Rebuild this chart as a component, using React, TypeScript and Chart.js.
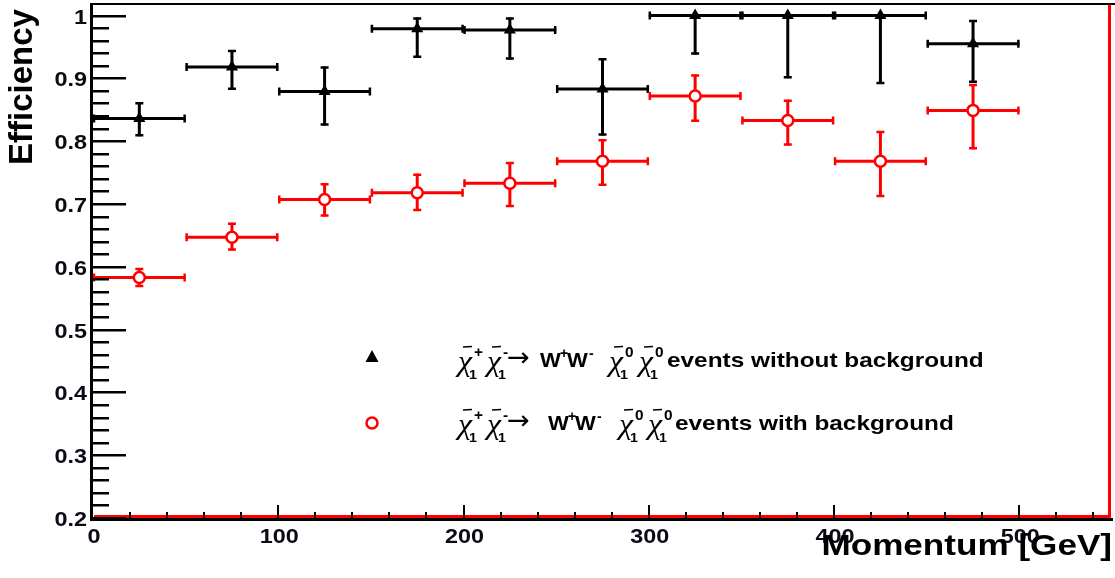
import React, { useEffect, useRef } from 'react';
import { Chart, registerables } from 'chart.js';

Chart.register(...registerables);

// ---- data ----
const binCenters = [25, 75, 125, 175, 225, 275, 325, 375, 425, 475];
const binHalfWidths = [25, 25, 25, 25, 25, 25, 25, 25, 25, 25];

const effNoBkg = [0.836, 0.918, 0.879, 0.979, 0.977, 0.883, 1.0, 1.0, 1.0, 0.955];
const effNoBkgHigh = [0.862, 0.945, 0.919, 0.997, 0.997, 0.932, 1.0, 1.0, 1.0, 0.993];
const effNoBkgLow = [0.808, 0.882, 0.825, 0.933, 0.930, 0.809, 0.938, 0.900, 0.891, 0.893];

const effBkg = [0.583, 0.647, 0.707, 0.718, 0.733, 0.768, 0.872, 0.833, 0.768, 0.849];
const effBkgHigh = [0.598, 0.670, 0.733, 0.748, 0.767, 0.803, 0.906, 0.866, 0.816, 0.891];
const effBkgLow = [0.568, 0.626, 0.680, 0.689, 0.695, 0.729, 0.831, 0.793, 0.711, 0.787];

const xTickValues = [0, 100, 200, 300, 400, 500];
const xTickLabels = ['0', '100', '200', '300', '400', '500'];
const yTickValues = [0.2, 0.3, 0.4, 0.5, 0.6, 0.7, 0.8, 0.9, 1.0];
const yTickLabels = ['0.2', '0.3', '0.4', '0.5', '0.6', '0.7', '0.8', '0.9', '1'];
const xMinorStep = 20;
const yMinorStep = 0.02;

const xAxisTitle = 'Momentum [GeV]';
const yAxisTitle = 'Efficiency';
const legendTails = ['events without background', 'events with background'];

const BLACK = '#000000';
const RED = '#ff0000';
const SANS = '"Liberation Sans", Arial, sans-serif';
const SERIF = '"Liberation Serif", "DejaVu Serif", serif';

function stretchedText(ctx: CanvasRenderingContext2D, text: string, x: number, y: number, sx: number, align: CanvasTextAlign) {
  ctx.save();
  ctx.translate(x, y);
  ctx.scale(sx, 1);
  ctx.textAlign = align;
  ctx.textBaseline = 'alphabetic';
  ctx.fillText(text, 0, 0);
  ctx.restore();
}

function drawChi(ctx: CanvasRenderingContext2D, x: number, base: number, sup: string) {
  ctx.font = 'italic 29px ' + SERIF;
  stretchedText(ctx, 'χ', x, base + 4, 1.1, 'left');
  ctx.save();
  ctx.strokeStyle = ctx.fillStyle as string;
  ctx.lineWidth = 1.5;
  ctx.beginPath();
  ctx.moveTo(x + 5, base - 20);
  ctx.lineTo(x + 14, base - 20.5);
  ctx.stroke();
  ctx.restore();
  ctx.font = 'bold 14px ' + SANS;
  stretchedText(ctx, sup, x + 16, base - 10, 1.1, 'left');
  ctx.font = 'bold 13px ' + SANS;
  stretchedText(ctx, '1', x + 11, base + 12, 1.1, 'left');
}

type LegendLayout = { base: number; chis: number[]; arrow: number; w1: number; w2: number; tail: number; text: string };

function drawLegendLine(ctx: CanvasRenderingContext2D, L: LegendLayout) {
  ctx.fillStyle = BLACK;
  drawChi(ctx, L.chis[0], L.base, '+');
  drawChi(ctx, L.chis[1], L.base, '-');
  ctx.font = '26px "DejaVu Sans", sans-serif';
  stretchedText(ctx, '→', L.arrow, L.base - 1, 1.05, 'left');
  ctx.font = 'bold 21px ' + SANS;
  stretchedText(ctx, 'W', L.w1, L.base, 1.05, 'left');
  ctx.font = 'bold 14px ' + SANS;
  stretchedText(ctx, '+', L.w1 + 20, L.base - 9, 1.0, 'left');
  ctx.font = 'bold 21px ' + SANS;
  stretchedText(ctx, 'W', L.w2, L.base, 1.05, 'left');
  ctx.font = 'bold 14px ' + SANS;
  stretchedText(ctx, '-', L.w2 + 22, L.base - 9, 1.0, 'left');
  drawChi(ctx, L.chis[2], L.base, '0');
  drawChi(ctx, L.chis[3], L.base, '0');
  ctx.font = 'bold 21px ' + SANS;
  stretchedText(ctx, L.text, L.tail, L.base, 1.16, 'left');
}

const errorBarPlugin = {
  id: 'errorBars',
  beforeDatasetsDraw(chart: any) {
    const { ctx } = chart;
    const xs = chart.scales.x;
    const ys = chart.scales.y;
    const series = [
      { color: BLACK, v: effNoBkg, hi: effNoBkgHigh, lo: effNoBkgLow },
      { color: RED, v: effBkg, hi: effBkgHigh, lo: effBkgLow },
    ];
    ctx.save();
    ctx.lineCap = 'butt';
    series.forEach((s) => {
      ctx.strokeStyle = s.color;
      binCenters.forEach((bc, i) => {
        const px = xs.getPixelForValue(bc);
        const py = ys.getPixelForValue(s.v[i]);
        const x0 = xs.getPixelForValue(bc - binHalfWidths[i]);
        const x1 = xs.getPixelForValue(bc + binHalfWidths[i]);
        const yh = ys.getPixelForValue(s.hi[i]);
        const yl = ys.getPixelForValue(s.lo[i]);
        ctx.lineWidth = 3;
        ctx.beginPath();
        ctx.moveTo(x0, py);
        ctx.lineTo(x1, py);
        ctx.moveTo(px, yh);
        ctx.lineTo(px, yl);
        ctx.stroke();
        ctx.lineWidth = 2.5;
        ctx.beginPath();
        ctx.moveTo(x0 + 1, py - 4);
        ctx.lineTo(x0 + 1, py + 4);
        ctx.moveTo(x1 - 1, py - 4);
        ctx.lineTo(x1 - 1, py + 4);
        if (yh < py - 1) {
          ctx.moveTo(px - 4, yh + 1);
          ctx.lineTo(px + 4, yh + 1);
        }
        if (yl > py + 1) {
          ctx.moveTo(px - 4, yl - 1);
          ctx.lineTo(px + 4, yl - 1);
        }
        ctx.stroke();
      });
    });
    ctx.restore();
  },
};

const framePlugin = {
  id: 'rootFrame',
  afterDraw(chart: any) {
    const { ctx, chartArea } = chart;
    const xs = chart.scales.x;
    const ys = chart.scales.y;
    const { left, right, top, bottom } = chartArea;
    ctx.save();
    // red histogram-like outline (bottom & right)
    ctx.strokeStyle = RED;
    ctx.lineWidth = 3;
    ctx.beginPath();
    ctx.moveTo(left + 1, bottom - 1.5);
    ctx.lineTo(right - 2.5, bottom - 1.5);
    ctx.lineTo(right - 2.5, top + 2);
    ctx.stroke();
    // black frame
    ctx.strokeStyle = BLACK;
    ctx.lineWidth = 2;
    ctx.beginPath();
    ctx.moveTo(left, top + 1);
    ctx.lineTo(chart.width, top + 1);
    ctx.stroke();
    ctx.lineWidth = 3;
    ctx.beginPath();
    ctx.moveTo(left - 1.5, top);
    ctx.lineTo(left - 1.5, bottom + 3);
    ctx.moveTo(left - 3, bottom + 1.5);
    ctx.lineTo(right + 1, bottom + 1.5);
    ctx.stroke();

    // y ticks
    ctx.lineWidth = 2.5;
    ctx.beginPath();
    for (let v = ys.min; v <= ys.max + 1e-9; v += yMinorStep) {
      const py = Math.round(ys.getPixelForValue(v)) + 0.25;
      if (py < top + 3) continue;
      const isMajor = Math.abs(v * 10 - Math.round(v * 10)) < 1e-6;
      ctx.moveTo(left, py);
      ctx.lineTo(left + (isMajor ? 33 : 16), py);
    }
    ctx.stroke();
    // x ticks
    ctx.lineWidth = 2;
    ctx.beginPath();
    for (let v = xs.min; v <= xs.max + 1e-9; v += xMinorStep) {
      const px = Math.round(xs.getPixelForValue(v));
      if (px < left + 2 || px > right - 3) continue;
      const isMajor = Math.abs(v % 100) < 1e-6;
      ctx.moveTo(px, bottom);
      ctx.lineTo(px, bottom - (isMajor ? 13 : 6));
    }
    ctx.stroke();

    // tick labels
    ctx.fillStyle = '#0a0a14';
    ctx.font = 'bold 20px ' + SANS;
    yTickValues.forEach((v, i) => {
      stretchedText(ctx, yTickLabels[i], 87, ys.getPixelForValue(v) + 8, 1.17, 'right');
    });
    xTickValues.forEach((v, i) => {
      stretchedText(ctx, xTickLabels[i], xs.getPixelForValue(v) + 1, bottom + 25, 1.17, 'center');
    });

    // axis titles
    ctx.fillStyle = '#000';
    ctx.font = 'bold 30px ' + SANS;
    stretchedText(ctx, xAxisTitle, 1112, 555, 1.17, 'right');
    ctx.save();
    ctx.translate(32, 165);
    ctx.rotate(-Math.PI / 2);
    ctx.font = 'bold 33px ' + SANS;
    ctx.textAlign = 'left';
    ctx.textBaseline = 'alphabetic';
    ctx.fillText(yAxisTitle, 0, 0);
    ctx.restore();

    // legend markers
    ctx.fillStyle = BLACK;
    ctx.beginPath();
    ctx.moveTo(372, 350);
    ctx.lineTo(378.5, 362);
    ctx.lineTo(365.5, 362);
    ctx.closePath();
    ctx.fill();
    ctx.beginPath();
    ctx.arc(372, 423, 5.5, 0, Math.PI * 2);
    ctx.fillStyle = '#fff';
    ctx.fill();
    ctx.strokeStyle = RED;
    ctx.lineWidth = 2.5;
    ctx.stroke();

    drawLegendLine(ctx, { base: 367, chis: [458, 487, 609, 639], arrow: 507, w1: 540, w2: 567, tail: 667, text: legendTails[0] });
    drawLegendLine(ctx, { base: 430, chis: [458, 487, 619, 648], arrow: 507, w1: 548, w2: 575, tail: 675, text: legendTails[1] });
    ctx.restore();
  },
};

export default function App() {
  const canvasRef = useRef<HTMLCanvasElement | null>(null);

  useEffect(() => {
    if (!canvasRef.current) return;
    const chart = new Chart(canvasRef.current, {
      type: 'scatter',
      data: {
        datasets: [
          {
            label: 'with background',
            data: binCenters.map((x, i) => ({ x, y: effBkg[i] })),
            pointStyle: 'circle',
            pointRadius: 5.5,
            pointBackgroundColor: '#ffffff',
            pointBorderColor: RED,
            pointBorderWidth: 2.5,
            showLine: false,
          },
          {
            label: 'without background',
            data: binCenters.map((x, i) => ({ x, y: effNoBkg[i] })),
            pointStyle: 'triangle',
            pointRadius: 7,
            pointBackgroundColor: BLACK,
            pointBorderColor: BLACK,
            pointBorderWidth: 0,
            showLine: false,
          },
        ],
      },
      options: {
        animation: false,
        responsive: true,
        maintainAspectRatio: false,
        devicePixelRatio: 1,
        layout: { autoPadding: false, padding: { left: 93, top: 3, right: 3, bottom: 60 } },
        scales: {
          x: { type: 'linear', min: 0, max: 550, display: false },
          y: { type: 'linear', min: 0.2, max: 1.02, display: false },
        },
        plugins: {
          legend: { display: false },
          tooltip: { enabled: false },
        },
      },
      plugins: [errorBarPlugin, framePlugin],
    });
    return () => chart.destroy();
  }, []);

  return (
    <div style={{ position: 'absolute', left: 0, top: 0, width: 1115, height: 578, background: '#fff' }}>
      <canvas ref={canvasRef} />
    </div>
  );
}
